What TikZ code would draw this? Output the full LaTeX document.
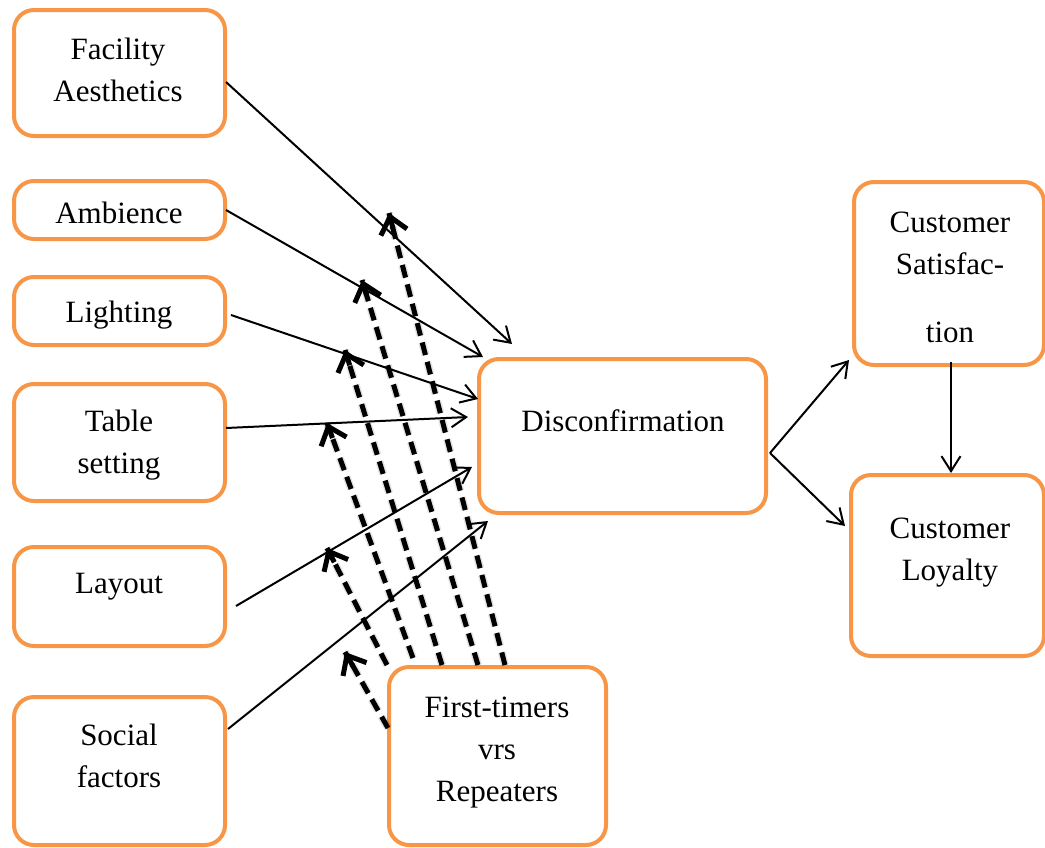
\documentclass[tikz,border=0pt]{standalone}
\usepackage{fontspec}
\setmainfont{Liberation Serif}
\usetikzlibrary{arrows.meta,calc}
\definecolor{boxorange}{RGB}{247,150,70}
% centred lines whose first baseline is the box baseline
\newcommand{\boxlines}[1]{\vtop{\baselineskip=42pt\lineskiplimit=-100pt\halign{\hfil##\hfil\cr#1\crcr}}}
\tikzset{
  box/.style={draw=boxorange, line width=4pt, rounded corners=20pt, fill=white,
    inner sep=0pt, outer sep=0pt},
  txt/.style={anchor=base, inner sep=0pt, font=\fontsize{31}{42}\selectfont},
  link/.style={draw=black, line width=2pt,
    -{Straight Barb[length=15pt,width=19pt,line width=2pt]}},
  moderate/.style={draw=black, line width=5pt, dash pattern=on 13pt off 7pt,
    preaction={draw=black, opacity=0.1, line width=8pt, dash pattern=on 13pt off 7pt}},
  modtip/.style={draw=black, line width=5pt, solid, line join=miter,
    -{Straight Barb[length=16pt,width=27pt,line width=5pt]}}
}
% dashed moderating arrow: dashed shaft plus a solid end carrying the tip
\newcommand{\modarrow}[2]{%
  \draw[moderate] (#1) -- (#2);
  \draw[modtip] ($(#2)!16pt!(#1)$) -- (#2);}
\begin{document}
\begin{tikzpicture}[x=1pt,y=-1pt]
\useasboundingbox (0,0) rectangle (1045,847);

% antecedent boxes
\node[box, minimum width=211pt, minimum height=126pt] (fac) at (119.5,73) {};
\node[box, minimum width=211pt, minimum height=58pt]  (amb) at (119.5,210) {};
\node[box, minimum width=211pt, minimum height=68pt]  (lig) at (119.5,311) {};
\node[box, minimum width=211pt, minimum height=117pt] (tab) at (119.5,442.5) {};
\node[box, minimum width=211pt, minimum height=99pt]  (lay) at (119.5,596.5) {};
\node[box, minimum width=211pt, minimum height=148pt] (soc) at (119.5,771) {};
% central and outcome boxes
\node[box, minimum width=287pt, minimum height=154pt] (dis) at (622.5,436) {};
\node[box, minimum width=217pt, minimum height=178pt] (ft)  at (497.5,756) {};
\node[box, minimum width=190pt, minimum height=183pt] (sat) at (949,273.5) {};
\node[box, minimum width=193pt, minimum height=181pt] (loy) at (947.5,565.5) {};

% labels
\node[txt] (fac-t) at (118,59)  {\boxlines{Facility\cr Aesthetics}};
\node[txt] (amb-t) at (119,223) {Ambience};
\node[txt] (lig-t) at (119,322) {Lighting};
\node[txt] (tab-t) at (119,431) {\boxlines{Table\cr setting}};
\node[txt] (lay-t) at (119,593) {Layout};
\node[txt] (soc-t) at (119,745) {\boxlines{Social\cr factors}};
\node[txt] (dis-t) at (623,431) {Disconfirmation};
\node[txt] (ft-t)  at (497,717) {\boxlines{First-timers\cr vrs\cr Repeaters}};
\node[txt] (sat-t) at (950,232) {\boxlines{Customer\cr Satisfac-\cr\noalign{\vskip 26pt}tion}};
\node[txt] (loy-t) at (950,538) {\boxlines{Customer\cr Loyalty}};

% antecedents to disconfirmation
\draw[link] ($(fac.east)+(1,9)$)      -- ($(dis.north west)+(33,-15)$);
\draw[link] ($(amb.east)+(1,0)$)      -- ($(dis.north west)+(4,-2)$);
\draw[link] ($(lig.east)+(6,4)$)      -- ($(dis.north west)+(-1,40)$);
\draw[link] ($(tab.east)+(1,-14.5)$)  -- ($(dis.north west)+(-11,58)$);
\draw[link] ($(lay.east)+(11,9.5)$)   -- ($(dis.north west)+(-7,108)$);
\draw[link] ($(soc.east)+(3,-42)$)    -- ($(dis.south west)+(9,8)$);

% disconfirmation to outcomes
\coordinate (split) at ($(dis.east)+(4,17)$);
\draw[link] (split) -- ($(sat.south west)+(-5,-5)$);
\draw[link] (split) -- ($(loy.north west)+(-6,51)$);
\draw[link] ($(sat.south)+(2,-3)$) -- ($(loy.north)+(3.5,-2)$);

% moderating effects of visitor type
\coordinate (s1) at ($(ft.north west)+(116,-2)$);
\coordinate (s2) at ($(ft.north west)+(89,-2)$);
\coordinate (s3) at ($(ft.north west)+(53,-2)$);
\coordinate (s4) at ($(ft.north west)+(24,-9)$);
\coordinate (s5) at ($(ft.north west)+(-2,-2)$);
\coordinate (s6) at ($(ft.north west)+(-1,61)$);
\coordinate (m1) at (389,213);
\coordinate (m2) at (362,280);
\coordinate (m3) at (345,350);
\coordinate (m4) at (327,423);
\coordinate (m5) at (327,548);
\coordinate (m6) at (345,652);
\modarrow{s1}{m1}
\modarrow{s2}{m2}
\modarrow{s3}{m3}
\modarrow{s4}{m4}
\modarrow{s5}{m5}
\modarrow{s6}{m6}
\end{tikzpicture}
\end{document}
